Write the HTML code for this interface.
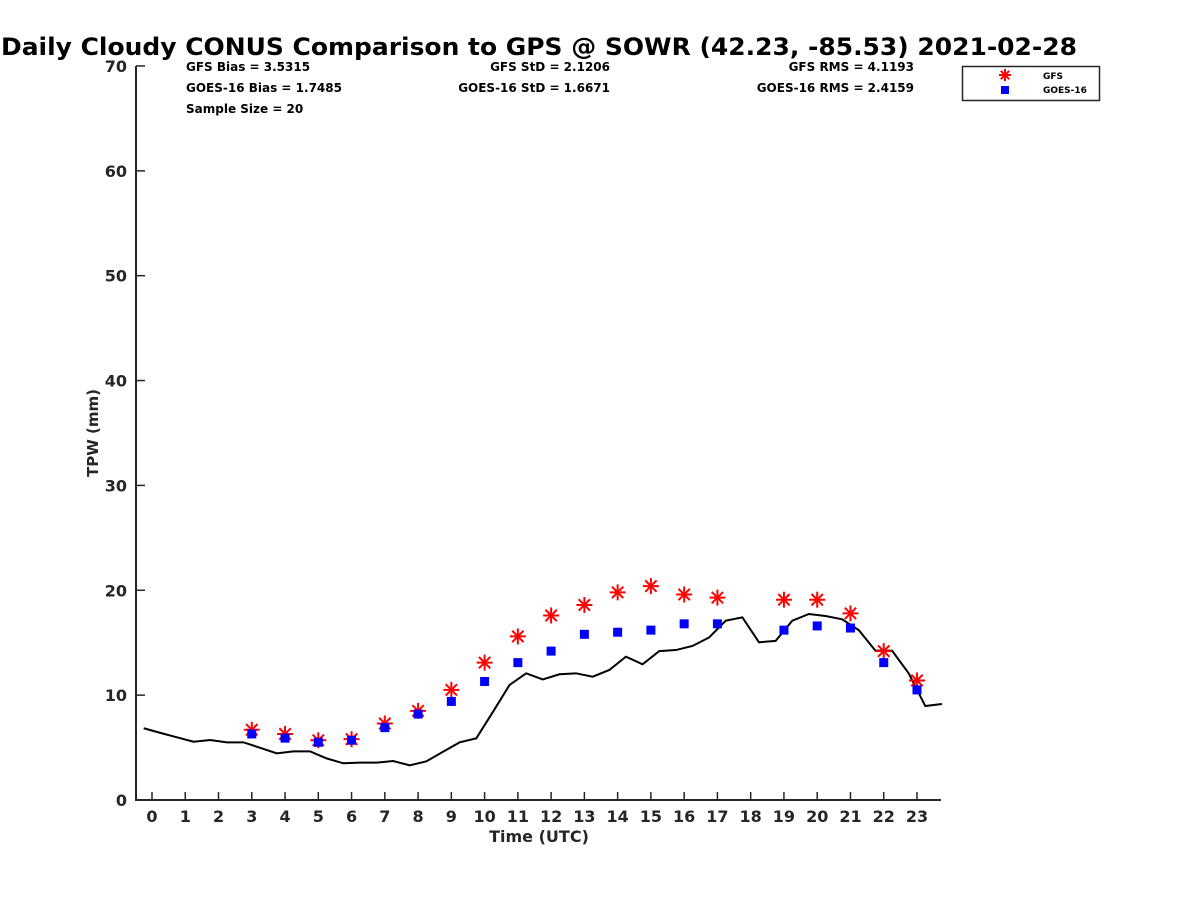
<!DOCTYPE html>
<html><head><meta charset="utf-8"><style>
body{margin:0;background:#fff}
svg text{font-family:"DejaVu Sans","Liberation Sans",sans-serif;font-weight:bold}
</style></head><body>
<svg id="chart" width="1200" height="900" xmlns="http://www.w3.org/2000/svg">
<text x="1" y="55" font-size="24" textLength="1076" lengthAdjust="spacingAndGlyphs">Daily Cloudy CONUS Comparison to GPS @ SOWR (42.23, -85.53) 2021-02-28</text>
<g font-size="12" fill="#000">
<text x="186" y="71">GFS Bias = 3.5315</text>
<text x="186" y="92">GOES-16 Bias = 1.7485</text>
<text x="186" y="113">Sample Size = 20</text>
<text x="610" y="71" text-anchor="end">GFS StD = 2.1206</text>
<text x="610" y="92" text-anchor="end">GOES-16 StD = 1.6671</text>
<text x="914" y="71" text-anchor="end">GFS RMS = 4.1193</text>
<text x="914" y="92" text-anchor="end">GOES-16 RMS = 2.4159</text>
</g>
<g id="axes"></g>
<g id="marks"></g>
<g>
<rect x="962.5" y="66.5" width="137" height="34" fill="#fff" stroke="#262626" stroke-width="1.5"/>
<g stroke="#f00" stroke-width="2">
<line x1="1005" y1="69" x2="1005" y2="81"/><line x1="999" y1="75" x2="1011" y2="75"/><line x1="1000.8" y1="70.8" x2="1009.2" y2="79.2"/><line x1="1000.8" y1="79.2" x2="1009.2" y2="70.8"/></g>
<rect x="1001" y="86" width="8" height="8" fill="#00f"/>
<text x="1043" y="79" font-size="9">GFS</text>
<text x="1043" y="93" font-size="9">GOES-16</text>
</g>
</svg>
<script>
const gpsHours=[-0.25,0.25,0.75,1.25,1.75,2.25,2.75,3.25,3.75,4.25,4.75,5.25,5.75,6.25,6.75,7.25,7.75,8.25,8.75,9.25,9.75,10.25,10.75,11.25,11.75,12.25,12.75,13.25,13.75,14.25,14.75,15.25,15.75,16.25,16.75,17.25,17.75,18.25,18.75,19.25,19.75,20.25,20.75,21.25,21.75,22.25,22.75,23.25,23.75];
const gpsValues=[6.84,6.4,5.98,5.56,5.72,5.5,5.5,4.98,4.45,4.64,4.64,3.97,3.5,3.56,3.56,3.72,3.3,3.69,4.6,5.5,5.88,8.4,10.97,12.08,11.5,11.99,12.08,11.76,12.4,13.67,12.94,14.2,14.3,14.69,15.5,17.1,17.42,15.04,15.17,17.1,17.74,17.55,17.23,16.2,14.24,14.24,12.08,8.96,9.15];
const satHours=[3,4,5,6,7,8,9,10,11,12,13,14,15,16,17,19,20,21,22,23];
const gfsValues=[6.7,6.3,5.7,5.8,7.3,8.5,10.5,13.1,15.6,17.6,18.6,19.8,20.4,19.6,19.3,19.1,19.1,17.8,14.2,11.4];
const goesValues=[6.3,5.9,5.5,5.7,6.9,8.2,9.4,11.3,13.1,14.2,15.8,16.0,16.2,16.8,16.8,16.2,16.6,16.4,13.1,10.5];
const xTicks=[0,1,2,3,4,5,6,7,8,9,10,11,12,13,14,15,16,17,18,19,20,21,22,23];
const yTicks=[0,10,20,30,40,50,60,70];

const NS='http://www.w3.org/2000/svg';
const X=h=>152+(h)*33.26;
const Y=v=>800-v*10.486;
function mk(tag,attrs,parent){const e=document.createElementNS(NS,tag);for(const k in attrs)e.setAttribute(k,attrs[k]);parent.appendChild(e);return e;}
const axes=document.getElementById('axes'),marks=document.getElementById('marks');
const C='#262626';
let a=mk('line',{x1:136,y1:800,x2:941,y2:800,stroke:C,'stroke-width':2},axes);


a=mk('line',{x1:136,y1:66,x2:136,y2:801,stroke:C,'stroke-width':2},axes);


xTicks.forEach(t=>{
  mk('line',{x1:X(t),y1:800,x2:X(t),y2:792,stroke:C,'stroke-width':1.5},axes);
  const tx=mk('text',{x:X(t),y:822,'font-size':16,'text-anchor':'middle',fill:C},axes);tx.textContent=t;
  
  
});
yTicks.forEach(t=>{
  mk('line',{x1:136,y1:Y(t),x2:145,y2:Y(t),stroke:C,'stroke-width':1.5},axes);
  const tx=mk('text',{x:127,y:Y(t)+6,'font-size':16,'text-anchor':'end',fill:C},axes);tx.textContent=t;
  
  
});
let t=mk('text',{x:539,y:842,'font-size':16,'text-anchor':'middle',fill:C},axes);t.textContent='Time (UTC)';


t=mk('text',{x:0,y:0,'font-size':15,'text-anchor':'middle',fill:C,transform:'translate(98,433) rotate(-90)'},axes);t.textContent='TPW (mm)';


const ln=mk('polyline',{points:gpsHours.map((h,i)=>X(h)+','+Y(gpsValues[i])).join(' '),fill:'none',stroke:'#000','stroke-width':2},marks);


satHours.forEach((h,i)=>{
  const cx=X(h),cy=Y(gfsValues[i]);
  const g=mk('g',{stroke:'#f00','stroke-width':2},marks);
  
  
  mk('line',{x1:cx,y1:cy-8,x2:cx,y2:cy+8},g);
  mk('line',{x1:cx-8,y1:cy,x2:cx+8,y2:cy},g);
  mk('line',{x1:cx-5.7,y1:cy-5.7,x2:cx+5.7,y2:cy+5.7},g);
  mk('line',{x1:cx-5.7,y1:cy+5.7,x2:cx+5.7,y2:cy-5.7},g);
});
satHours.forEach((h,i)=>{
  const r=mk('rect',{x:X(h)-4.5,y:Y(goesValues[i])-4.5,width:9,height:9,fill:'#00f'},marks);
  
  
});
</script>
</body></html>
